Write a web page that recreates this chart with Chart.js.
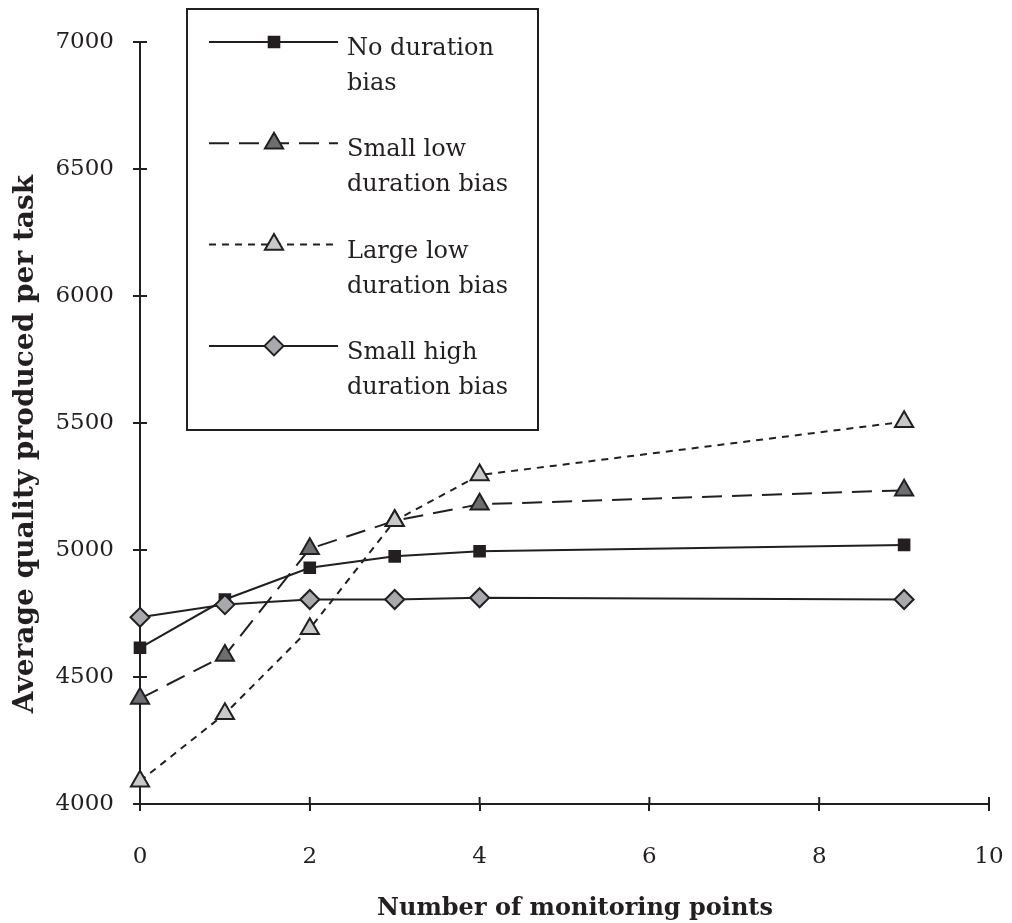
<!DOCTYPE html>
<html>
<head>
<meta charset="utf-8">
<script src="https://cdn.jsdelivr.net/npm/chart.js@4.4.1/dist/chart.umd.min.js"></script>
<style>
  html, body { margin: 0; padding: 0; background: #fff; }
  #wrap { width: 1012px; height: 923px; position: relative; }
</style>
</head>
<body>
<div id="wrap"><canvas id="qualityChart" width="1012" height="923"></canvas></div>
<script>
// Data
const monitoringPoints = [0, 1, 2, 3, 4, 9];
const noBias    = [4615, 4805, 4930, 4975, 4995, 5020];
const smallLow  = [4415, 4585, 5005, 5115, 5180, 5235];
const largeLow  = [4090, 4355, 4690, 5115, 5295, 5505];
const smallHigh = [4735, 4785, 4805, 4805, 4812, 4805];

const seriesNames = [
    ['No duration', 'bias'],
    ['Small low', 'duration bias'],
    ['Large low', 'duration bias'],
    ['Small high', 'duration bias']
];
const xTicks = [0, 2, 4, 6, 8, 10];
const yTicks = [4000, 4500, 5000, 5500, 6000, 6500, 7000];
const xTitle = 'Number of monitoring points';
const yTitle = 'Average quality produced per task';

const ink = '#231f20';
const serif = "'DejaVu Serif', serif";

function points(values) {
    return monitoringPoints.map((x, i) => ({ x: x, y: values[i] }));
}

function makeSet(i, values, style, fill, dash, radius, order) {
    return {
        label: seriesNames[i].join(' '),
        data: points(values),
        borderColor: ink,
        borderWidth: 2,
        borderDash: dash,
        pointStyle: style,
        pointRadius: radius,
        pointBackgroundColor: fill,
        pointBorderColor: ink,
        pointBorderWidth: 2,
        tension: 0,
        clip: false,
        order: order
    };
}

// Ticks that cross the axis line (chart.js only draws the outside half)
const crossTicks = {
    id: 'crossTicks',
    beforeDatasetsDraw(chart) {
        const ctx = chart.ctx;
        const xs = chart.scales.x, ys = chart.scales.y;
        ctx.save();
        ctx.strokeStyle = ink;
        ctx.lineWidth = 2;
        ctx.beginPath();
        xTicks.forEach(v => {
            const px = xs.getPixelForValue(v);
            ctx.moveTo(px, ys.bottom);
            ctx.lineTo(px, ys.bottom - 7);
        });
        yTicks.forEach(v => {
            const py = ys.getPixelForValue(v);
            ctx.moveTo(xs.left, py);
            ctx.lineTo(xs.left + 7, py);
        });
        ctx.stroke();
        ctx.restore();
    }
};

// Axis titles, placed like in the original figure
const axisTitles = {
    id: 'axisTitles',
    afterDraw(chart) {
        const ctx = chart.ctx;
        ctx.save();
        ctx.fillStyle = ink;
        ctx.textAlign = 'center';
        ctx.textBaseline = 'alphabetic';
        ctx.font = 'bold 24px ' + serif;
        ctx.fillText(xTitle, 575, 915);
        ctx.translate(33, 444);
        ctx.rotate(-Math.PI / 2);
        ctx.font = 'bold 28px ' + serif;
        ctx.fillText(yTitle, 0, 0);
        ctx.restore();
    }
};

// Boxed legend with two-line labels
const boxLegend = {
    id: 'boxLegend',
    afterDraw(chart) {
        const ctx = chart.ctx;
        ctx.save();
        ctx.fillStyle = '#fff';
        ctx.fillRect(187, 9, 351, 421);
        ctx.strokeStyle = ink;
        ctx.lineWidth = 2;
        ctx.strokeRect(187, 9, 351, 421);

        chart.data.datasets.forEach((ds, i) => {
            const y = 42 + i * 101.3;
            ctx.save();
            ctx.strokeStyle = ink;
            ctx.lineWidth = 2;
            ctx.setLineDash(ds.borderDash || []);
            ctx.beginPath();
            ctx.moveTo(209, y);
            ctx.lineTo(338, y);
            ctx.stroke();
            ctx.restore();

            ctx.fillStyle = ds.pointBackgroundColor;
            ctx.strokeStyle = ink;
            ctx.lineWidth = 2;
            Chart.helpers.drawPoint(ctx, {
                pointStyle: ds.pointStyle,
                radius: ds.pointRadius,
                rotation: 0,
                borderWidth: 2
            }, 274, y);

            ctx.fillStyle = ink;
            ctx.font = '24px ' + serif;
            ctx.textBaseline = 'alphabetic';
            ctx.textAlign = 'left';
            ctx.fillText(seriesNames[i][0], 347, y + 13);
            ctx.fillText(seriesNames[i][1], 347, y + 48);
        });
        ctx.restore();
    }
};

new Chart(document.getElementById('qualityChart').getContext('2d'), {
    type: 'line',
    data: {
        datasets: [
            makeSet(0, noBias, 'rect', ink, [], 7.5, 2),
            makeSet(1, smallLow, 'triangle', '#6d6e71', [20, 10], 10.5, 3),
            makeSet(2, largeLow, 'triangle', '#c8c9cb', [7, 6], 10.5, 1),
            makeSet(3, smallHigh, 'rectRot', '#a7a9ac', [], 9.5, 0)
        ]
    },
    options: {
        responsive: false,
        animation: false,
        layout: { padding: { top: 42, right: 23, left: 0, bottom: 0 } },
        plugins: {
            legend: { display: false },
            tooltip: { enabled: false }
        },
        scales: {
            x: {
                type: 'linear',
                min: 0,
                max: 10,
                afterBuildTicks: scale => { scale.ticks = xTicks.map(v => ({ value: v })); },
                afterFit: scale => {
                    scale.height = 119;
                    scale.paddingLeft = 0;
                    scale.paddingRight = 0;
                },
                grid: { drawOnChartArea: false, drawTicks: true, tickLength: 7, color: ink, lineWidth: 2 },
                border: { color: ink, width: 2 },
                ticks: { color: ink, padding: 32, maxRotation: 0, font: { family: serif, size: 23 } }
            },
            y: {
                min: 4000,
                max: 7000,
                afterBuildTicks: scale => { scale.ticks = yTicks.map(v => ({ value: v })); },
                afterFit: scale => { scale.width = 140; },
                grid: { drawOnChartArea: false, drawTicks: true, tickLength: 7, color: ink, lineWidth: 2 },
                border: { color: ink, width: 2 },
                ticks: {
                    color: ink,
                    padding: 19,
                    font: { family: serif, size: 23 },
                    callback: v => String(v)
                }
            }
        }
    },
    plugins: [crossTicks, axisTitles, boxLegend]
});
</script>
</body>
</html>
